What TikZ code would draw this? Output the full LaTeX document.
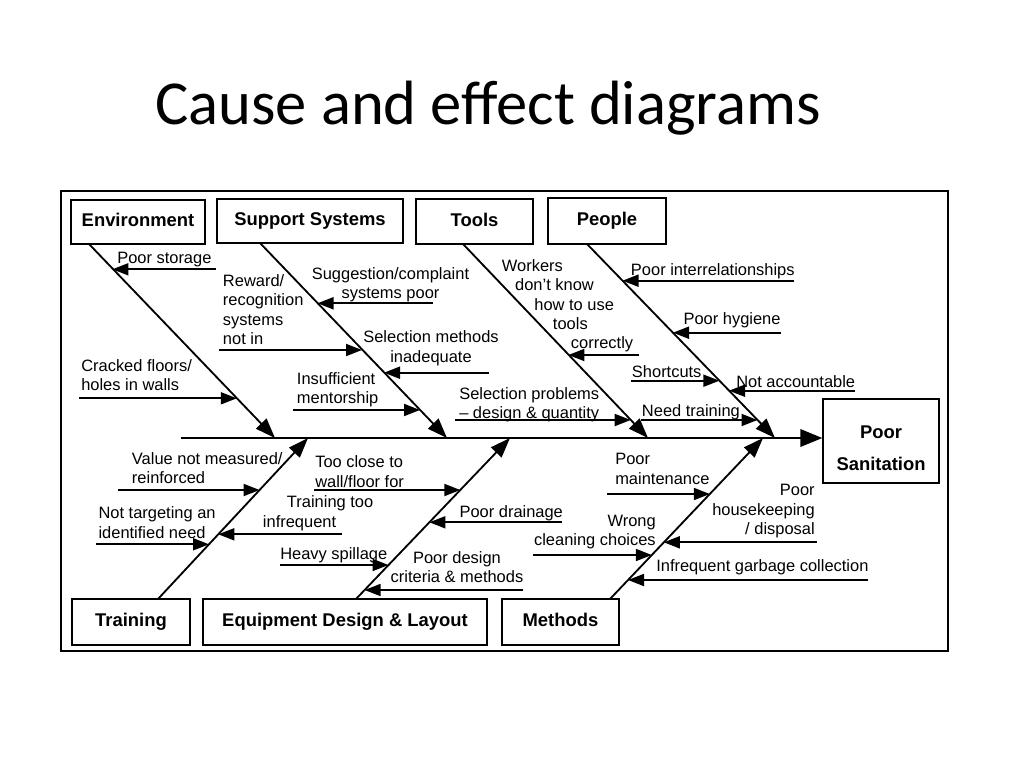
\documentclass[tikz,border=0pt]{standalone}
\usepackage{fontspec}
\setmainfont{Liberation Sans}
\newfontfamily\titlefont{Carlito}
\usetikzlibrary{arrows.meta}

\tikzset{
  catbox/.style={draw, line width=1pt, inner sep=0pt, text height=9.5pt, text depth=2.8pt, font=\fontsize{13.1}{16}\selectfont\bfseries},
  cause/.style={inner sep=0pt, anchor=north west, align=left, font=\fontsize{11.7}{13.8}\selectfont},
  bone/.style={line width=1.3pt, -{Triangle[length=5mm,width=3.6mm]}},
  sub/.style={line width=1.3pt, -{Triangle[length=4mm,width=3mm]}},
  spine/.style={line width=1.3pt, -{Triangle[length=5.5mm,width=4.4mm]}}
}

\begin{document}
\begin{tikzpicture}[x=0.25mm, y=-0.25mm]
    \useasboundingbox (0,0) rectangle (1024,768);

    \node[font=\titlefont\fontsize{44.5}{52}\selectfont, anchor=base] (title) at (488,124) {Cause and effect diagrams};
    \draw[line width=1.2pt] (61,191) rectangle (948,651);

    % category boxes
    \node[catbox, minimum width=33.5mm, minimum height=11mm] (env) at (138,222) {Environment};
    \node[catbox, minimum width=46.5mm, minimum height=11mm] (sup) at (310,221) {Support Systems};
    \node[catbox, minimum width=29.25mm, minimum height=11.25mm] (tools) at (474.5,221.5) {Tools};
    \node[catbox, minimum width=29.5mm, minimum height=11.5mm] (people) at (607,221) {People};
    \node[catbox, minimum width=29.5mm, minimum height=11.5mm] (training) at (131,622) {Training};
    \node[catbox, minimum width=71mm, minimum height=11.5mm] (equip) at (345,622) {Equipment Design \& Layout};
    \node[catbox, minimum width=29.25mm, minimum height=11.5mm] (methods) at (560.5,622) {Methods};
    \node[draw, line width=1pt, inner sep=0pt, minimum width=29mm, minimum height=21mm, align=center, font=\fontsize{13.1}{22.7}\selectfont\bfseries] (effect) at (881,441) {\rule{0pt}{19.5pt}Poor\\Sanitation};

    % spine and bones
    \coordinate (tail) at (181,438);
    \draw[spine] (tail) -- (tail -| effect.west);

    \coordinate (envTop) at (89,244);
    \coordinate (envTip) at (275,438);
    \coordinate (supTop) at (260,243);
    \coordinate (supTip) at (447,438);
    \coordinate (toolsTop) at (463,244);
    \coordinate (toolsTip) at (648,438);
    \coordinate (peopleTop) at (587,244);
    \coordinate (peopleTip) at (775,438);
    \coordinate (trainTop) at (158,599);
    \coordinate (trainTip) at (308,438);
    \coordinate (equipTop) at (356,599);
    \coordinate (equipTip) at (510,438);
    \coordinate (methTop) at (610,599);
    \coordinate (methTip) at (763,438);
    \draw[bone] (envTop) -- (envTip);
    \draw[bone] (supTop) -- (supTip);
    \draw[bone] (toolsTop) -- (toolsTip);
    \draw[bone] (peopleTop) -- (peopleTip);
    \draw[bone] (trainTop) -- (trainTip);
    \draw[bone] (equipTop) -- (equipTip);
    \draw[bone] (methTop) -- (methTip);

    % Environment
    \node[cause] (storage) at (117,252) {Poor storage};
    \draw[sub] (216,269.3) -- (112.4,269.3);
    \node[cause] (floors) at (81,359) {Cracked floors/\\holes in walls};
    \draw[sub] (79,398.3) -- (236.8,398.3);

    % Support Systems
    \node[cause] (reward) at (222.7,274) {Reward/\\recognition\\systems\\not in};
    \draw[sub] (219.3,350) -- (362,350);
    \node[cause, anchor=north, align=center] (suggest) at (390.5,267.3) {Suggestion/complaint\\systems poor};
    \draw[sub] (432.7,303.3) -- (317.5,303.3);
    \node[cause, anchor=north, align=center] (selmeth) at (431,330.7) {Selection methods\\inadequate};
    \draw[sub] (489.3,372.7) -- (384,372.7);
    \node[cause] (mentor) at (296.7,372.3) {Insufficient\\mentorship};
    \draw[sub] (293.3,410) -- (420,410);

    % Tools
    \node[cause] (workers) at (501.7,259) {Workers\\\hspace*{3.3mm}don’t know\\\hspace*{8.1mm}how to use\\\hspace*{12.75mm}tools\\\hspace*{17.25mm}correctly};
    \draw[sub] (639.3,355) -- (568.4,355);
    \node[cause] (selprob) at (459,387.3) {Selection problems\\– design \& quantity};
    \draw[sub] (455,420) -- (630.7,420);

    % People
    \node[cause] (interrel) at (630.7,263.3) {Poor interrelationships};
    \draw[sub] (794,280.7) -- (622.5,280.7);
    \node[cause] (hygiene) at (683.3,312.3) {Poor hygiene};
    \draw[sub] (781,332.7) -- (673,332.7);
    \node[cause] (shortcuts) at (631.7,365.7) {Shortcuts};
    \draw[sub] (631,380.7) -- (719.4,380.7);
    \node[cause] (account) at (736,375.7) {Not accountable};
    \draw[sub] (855,390.7) -- (729,390.7);
    \node[cause] (needtrain) at (641.7,404) {Need training};
    \draw[sub] (641,420) -- (757.5,420);

    % Training
    \node[cause] (value) at (131.7,452.3) {Value not measured/\\reinforced};
    \draw[sub] (118.3,490) -- (259.6,490);
    \node[cause] (target) at (98.3,506.7) {Not targeting an\\identified need};
    \draw[sub] (96,544.3) -- (209,544.3);
    \node[cause] (infreq) at (262.7,495.7) {\hspace*{6mm}Training too\\infrequent};
    \draw[sub] (341.7,534.3) -- (218.3,534.3);

    % Equipment Design & Layout
    \node[cause] (tooclose) at (315,455.7) {Too close to\\wall/floor for};
    \draw[sub] (314,490) -- (460.3,490);
    \node[cause] (drainage) at (459.3,505.7) {Poor drainage};
    \draw[sub] (562,522.3) -- (429.4,522.3);
    \node[cause] (spillage) at (280,547.3) {Heavy spillage};
    \draw[sub] (280,565) -- (388.5,565);
    \node[cause, anchor=north, align=center] (design) at (457,551.3) {Poor design\\criteria \& methods};
    \draw[sub] (523,590) -- (364.6,590);

    % Methods
    \node[cause] (maint) at (615,453.3) {Poor\\maintenance};
    \draw[sub] (606.7,494) -- (709.8,494);
    \node[cause, anchor=north east, align=right] (housekeep) at (815,484) {Poor\\housekeeping\\/ disposal};
    \draw[sub] (816.7,542.3) -- (663.8,542.3);
    \node[cause, anchor=north east, align=right] (wrong) at (656,514.7) {Wrong\\cleaning choices};
    \draw[sub] (533.3,555) -- (651.8,555);
    \node[cause] (garbage) at (656,559.7) {Infrequent garbage collection};
    \draw[sub] (868,580) -- (628,580);
\end{tikzpicture}
\end{document}
